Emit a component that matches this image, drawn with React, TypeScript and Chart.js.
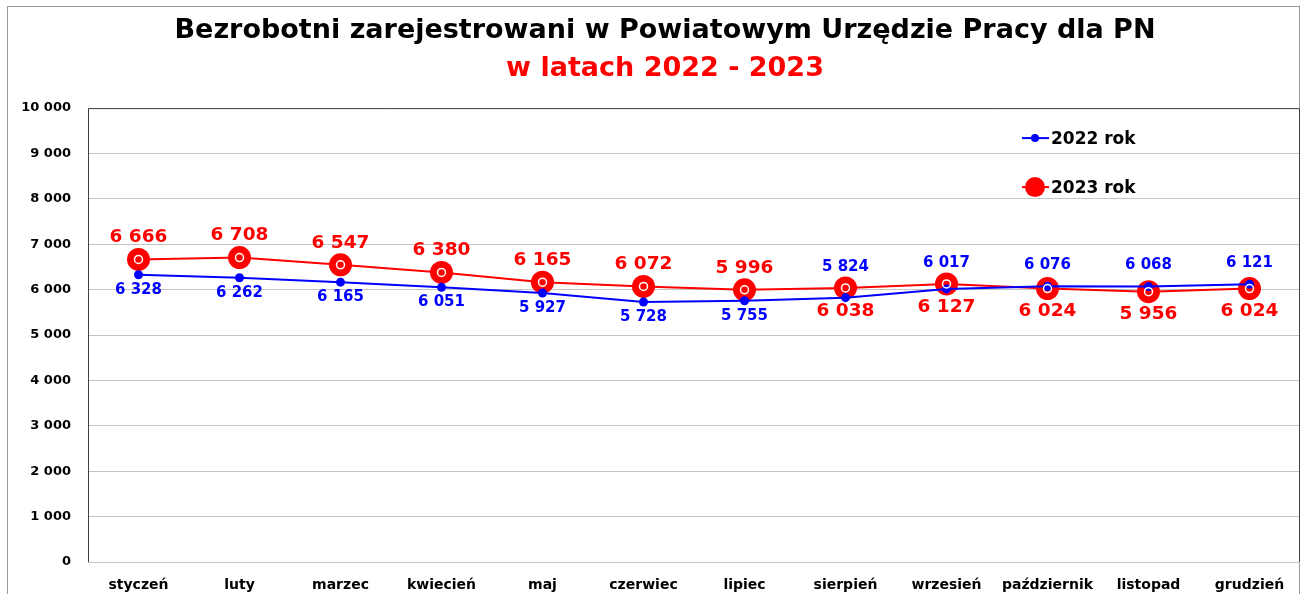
import React, { useEffect, useRef } from "react";
import { Chart, registerables } from "chart.js";

Chart.register(...registerables);

const months = [
  "styczeń", "luty", "marzec", "kwiecień", "maj", "czerwiec",
  "lipiec", "sierpień", "wrzesień", "październik", "listopad", "grudzień",
];
const values2022 = [6328, 6262, 6165, 6051, 5927, 5728, 5755, 5824, 6017, 6076, 6068, 6121];
const values2023 = [6666, 6708, 6547, 6380, 6165, 6072, 5996, 6038, 6127, 6024, 5956, 6024];
const yTicks = [0, 1000, 2000, 3000, 4000, 5000, 6000, 7000, 8000, 9000, 10000];
const seriesNames = ["2022 rok", "2023 rok"];
const titleText = "Bezrobotni zarejestrowani w Powiatowym Urzędzie Pracy dla PN";
const subtitleText = "w latach 2022 - 2023";

const FONT = "'DejaVu Sans', sans-serif";
const BLUE = "#0000ff";
const RED = "#ff0000";
const LABEL_SWITCH_INDEX = 7; // labels swap sides from "sierpień" onward
const TITLE_SHIFT = 9;

const fmt = (n: number) => String(n).replace(/\B(?=(\d{3})+(?!\d))/g, " ");

const decorPlugin = {
  id: "decor",
  afterLayout(chart: any) {
    (chart.boxes || []).forEach((b: any) => {
      if (!b.axis && b.options && b.options.text !== undefined && b.options.position === "top") {
        b.left += TITLE_SHIFT;
        b.right += TITLE_SHIFT;
      }
    });
  },
  afterDatasetsDraw(chart: any) {
    const ctx = chart.ctx as CanvasRenderingContext2D;
    const area = chart.chartArea;
    ctx.save();
    ctx.strokeStyle = "#404040";
    ctx.lineWidth = 1;
    ctx.beginPath();
    ctx.moveTo(area.left + 0.5, area.bottom);
    ctx.lineTo(area.left + 0.5, area.top + 0.5);
    ctx.lineTo(area.right - 0.5, area.top + 0.5);
    ctx.lineTo(area.right - 0.5, area.bottom);
    ctx.stroke();

    const meta22 = chart.getDatasetMeta(0);
    const meta23 = chart.getDatasetMeta(1);
    ctx.strokeStyle = "#ffffff";
    ctx.lineWidth = 1.5;
    meta23.data.forEach((pt: any) => {
      ctx.beginPath();
      ctx.arc(pt.x, pt.y, 4, 0, Math.PI * 2);
      ctx.stroke();
    });

    ctx.textAlign = "center";
    ctx.textBaseline = "middle";
    ctx.fillStyle = BLUE;
    ctx.font = `bold 15px ${FONT}`;
    meta22.data.forEach((pt: any, i: number) => {
      const above = i >= LABEL_SWITCH_INDEX;
      const topY = Math.min(pt.y, meta23.data[i].y);
      ctx.fillText(fmt(values2022[i]), pt.x, above ? topY - 21 : pt.y + 15);
    });
    ctx.fillStyle = RED;
    ctx.font = `bold 18.5px ${FONT}`;
    meta23.data.forEach((pt: any, i: number) => {
      const above = i < LABEL_SWITCH_INDEX;
      ctx.fillText(fmt(values2023[i]), pt.x, above ? pt.y - 22 : pt.y + 23);
    });

    const lx = 1022;
    const ys = [area.top + 30, area.top + 79];
    const colors = [BLUE, RED];
    const radii = [4, 10];
    ctx.font = `bold 17px ${FONT}`;
    ctx.textAlign = "left";
    for (let k = 0; k < 2; k++) {
      ctx.strokeStyle = colors[k];
      ctx.lineWidth = 2;
      ctx.beginPath();
      ctx.moveTo(lx, ys[k]);
      ctx.lineTo(lx + 27, ys[k]);
      ctx.stroke();
      ctx.fillStyle = colors[k];
      ctx.beginPath();
      ctx.arc(lx + 13, ys[k], radii[k], 0, Math.PI * 2);
      ctx.fill();
      ctx.fillStyle = "#000000";
      ctx.fillText(seriesNames[k], lx + 29, ys[k] + 1);
    }
    ctx.restore();
  },
};

export default function App() {
  const canvasRef = useRef<HTMLCanvasElement | null>(null);

  useEffect(() => {
    document.body.style.margin = "0";
    const canvas = canvasRef.current;
    if (!canvas) return;
    const chart = new Chart(canvas, {
      type: "line",
      data: {
        labels: months,
        datasets: [
          {
            label: seriesNames[0],
            data: values2022,
            borderColor: BLUE,
            backgroundColor: BLUE,
            borderWidth: 2,
            pointRadius: 4.5,
            pointBackgroundColor: BLUE,
            pointBorderWidth: 0,
            tension: 0,
          },
          {
            label: seriesNames[1],
            data: values2023,
            borderColor: RED,
            backgroundColor: RED,
            borderWidth: 2,
            pointRadius: 11.5,
            pointBackgroundColor: RED,
            pointBorderWidth: 0,
            tension: 0,
          },
        ],
      },
      options: {
        animation: false,
        responsive: false,
        devicePixelRatio: 1,
        layout: { autoPadding: false, padding: { left: 12, right: 6, top: 0, bottom: 0 } },
        plugins: {
          legend: { display: false },
          tooltip: { enabled: false },
          title: {
            display: true,
            text: titleText,
            color: "#000000",
            font: { family: FONT, size: 27, weight: "bold", lineHeight: 1.15 },
            padding: { top: 15, bottom: 7 },
          },
          subtitle: {
            display: true,
            text: subtitleText,
            color: RED,
            font: { family: FONT, size: 27, weight: "bold", lineHeight: 1.15 },
            padding: { top: 0, bottom: 24 },
          },
        },
        scales: {
          x: {
            offset: true,
            grid: { display: false },
            border: { display: false },
            ticks: {
              color: "#000000",
              font: { family: FONT, size: 14, weight: "bold" },
              padding: 7,
              maxRotation: 0,
              autoSkip: false,
            },
            afterFit: (s: any) => { s.height = 32; s.paddingLeft = 0; s.paddingRight = 0; },
          },
          y: {
            min: 0,
            max: 10000,
            afterBuildTicks: (s: any) => { s.ticks = yTicks.map((v) => ({ value: v })); },
            ticks: {
              color: "#000000",
              font: { family: FONT, size: 13, weight: "bold" },
              padding: 17,
              callback: (v: any) => fmt(Number(v)),
            },
            grid: { color: "#c4c4c4", lineWidth: 1, drawTicks: false },
            border: { display: false },
            afterFit: (s: any) => { s.width = 76; },
          },
        },
      } as any,
      plugins: [decorPlugin],
    });
    return () => chart.destroy();
  }, []);

  return (
    <div style={{ position: "absolute", left: 0, top: 0, width: 1306, height: 594, background: "#fff", overflow: "hidden" }}>
      <div
        style={{
          position: "absolute",
          left: 7,
          top: 6,
          width: 1293,
          height: 600,
          border: "1px solid #9a9a9a",
          boxSizing: "border-box",
        }}
      />
      <canvas ref={canvasRef} width={1306} height={594} style={{ position: "absolute", left: 0, top: 0, display: "block" }} />
    </div>
  );
}
